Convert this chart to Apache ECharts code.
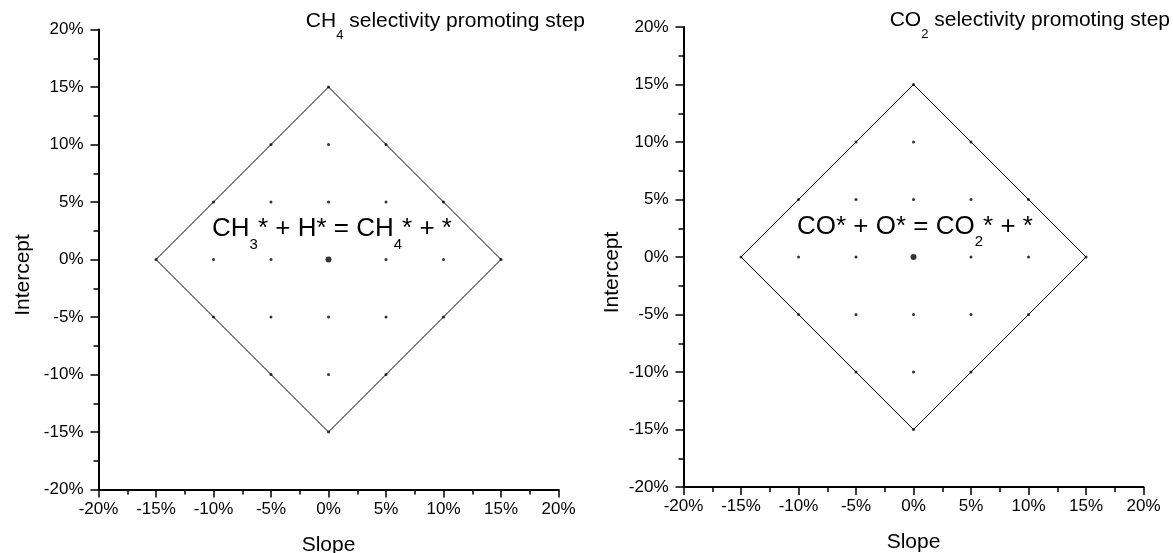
<!DOCTYPE html>
<html>
<head>
<meta charset="utf-8">
<script src="https://cdn.jsdelivr.net/npm/echarts@6/dist/echarts.min.js"></script>
<style>html,body{margin:0;padding:0;background:#fff;}#c{width:1173px;height:553px;}</style>
</head>
<body>
<div id="c"></div>
<script>
// ---- data ----
const gridSlope     = [0, -5, 0, 5, -10, -5, 0, 5, 10, -15, -10, -5, 5, 10, 15, -10, -5, 0, 5, 10, -5, 0, 5, 0];
const gridIntercept = [15, 10, 10, 10, 5, 5, 5, 5, 5, 0, 0, 0, 0, 0, 0, -5, -5, -5, -5, -5, -10, -10, -10, -15];
const centerSlope = [0];
const centerIntercept = [0];
const diamondSlope = [0, 15, 0, -15, 0];
const diamondIntercept = [15, 0, -15, 0, 15];
const axisMin = -20, axisMax = 20, axisStep = 5;
const leftTitle = '{m|CH}{s|4}{m| selectivity promoting step}';
const rightTitle = '{m|CO}{s|2}{m| selectivity promoting step}';
const leftEquation = '{e|CH}{es|3}{e|* + H* = CH}{es|4}{e|* + *}';
const rightEquation = '{e|CO* + O* = CO}{es|2}{e|* + *}';

const FONT = 'Liberation Sans, Arial, Helvetica, sans-serif';
const zip = (a, b) => a.map((v, i) => [v, b[i]]);

function axis(gridIndex, name, isX) {
  const o = {
    gridIndex, type: 'value', min: axisMin, max: axisMax, interval: axisStep,
    axisLine: { show: true, onZero: false, lineStyle: { color: '#000', width: 2 } },
    axisTick: { show: true, inside: false, length: 8, lineStyle: { color: '#000', width: 1.5 } },
    minorTick: { show: true, splitNumber: 2, length: 5, lineStyle: { color: '#000', width: 1.5 } },
    axisLabel: { formatter: v => v + '%', fontSize: 17, color: '#000', fontFamily: FONT, margin: isX ? 11 : 15 },
    splitLine: { show: false },
    minorSplitLine: { show: false },
    name, nameLocation: 'middle',
    nameTextStyle: { fontSize: 21, color: '#000', fontFamily: FONT }
  };
  if (isX) { o.nameGap = 45; }
  else { o.nameGap = gridIndex === 0 ? 65 : 61; o.nameTextStyle.padding = [0, 31, 0, 0]; }
  return o;
}

const titleRich = {
  m: { fontSize: 21, lineHeight: 21, verticalAlign: 'top', fontWeight: 'normal', color: '#000', fontFamily: FONT },
  s: { fontSize: 13, lineHeight: 31.5, verticalAlign: 'bottom', fontWeight: 'normal', color: '#000', fontFamily: FONT }
};
const eqRich = {
  e: { fontSize: 26, lineHeight: 26, verticalAlign: 'top', fontWeight: 'normal', color: '#000', fontFamily: FONT },
  es: { fontSize: 15, lineHeight: 36, verticalAlign: 'bottom', fontWeight: 'normal', color: '#000', fontFamily: FONT }
};

const series = [];
[0, 1].forEach(g => {
  series.push({
    type: 'line', xAxisIndex: g, yAxisIndex: g, data: zip(diamondSlope, diamondIntercept),
    symbol: 'none', lineStyle: { color: '#000', width: 1 }, silent: true, z: 2
  });
  series.push({
    type: 'scatter', xAxisIndex: g, yAxisIndex: g, data: zip(gridSlope, gridIntercept),
    symbol: 'circle', symbolSize: 3, itemStyle: { color: '#000' }, z: 3
  });
  series.push({
    type: 'scatter', xAxisIndex: g, yAxisIndex: g, data: zip(centerSlope, centerIntercept),
    symbol: 'circle', symbolSize: 6, itemStyle: { color: '#000' }, z: 4
  });
});

const chart = echarts.init(document.getElementById('c'), null, { renderer: 'canvas' });
const tStyle = { fontFamily: FONT, fontWeight: 'normal', color: '#000' };
chart.setOption({
  backgroundColor: '#fff',
  animation: false,
  title: [
    { text: leftTitle, right: 1173 - 585, top: 10.5, padding: 0, textStyle: Object.assign({ rich: titleRich }, tStyle) },
    { text: rightTitle, right: 3, top: 9.5, padding: 0, textStyle: Object.assign({ rich: titleRich }, tStyle) },
    { text: leftEquation, left: 212, top: 216, padding: 0, textStyle: Object.assign({ rich: eqRich }, tStyle) },
    { text: rightEquation, left: 797, top: 213.5, padding: 0, textStyle: Object.assign({ rich: eqRich }, tStyle) }
  ],
  grid: [
    { left: 98.5, top: 29.5, width: 460, height: 460, containLabel: false, outerBoundsMode: 'none' },
    { left: 683.5, top: 27, width: 460, height: 460, containLabel: false, outerBoundsMode: 'none' }
  ],
  xAxis: [axis(0, 'Slope', true), axis(1, 'Slope', true)],
  yAxis: [axis(0, 'Intercept', false), axis(1, 'Intercept', false)],
  series
});
</script>
</body>
</html>
